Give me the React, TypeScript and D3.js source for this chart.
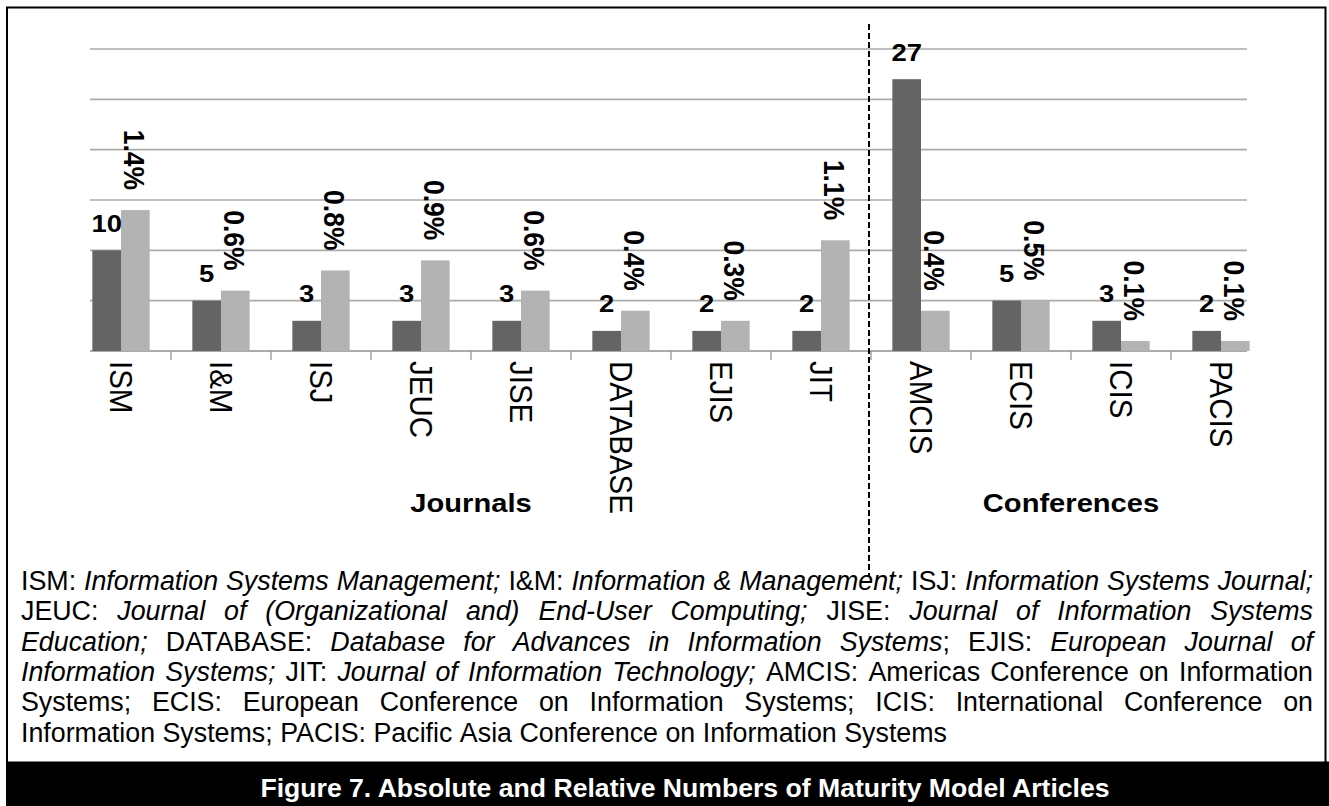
import React, { useEffect, useRef } from "react";
import * as d3 from "d3";

// chart data
const categories = ["ISM", "I&M", "ISJ", "JEUC", "JISE", "DATABASE", "EJIS", "JIT", "AMCIS", "ECIS", "ICIS", "PACIS"];
const articleCounts = [10, 5, 3, 3, 3, 2, 2, 2, 27, 5, 3, 2];
const articleShares = [1.4, 0.6, 0.8, 0.9, 0.6, 0.4, 0.3, 1.1, 0.4, 0.5, 0.1, 0.1];
const countTicks = [0, 5, 10, 15, 20, 25, 30];
const groupNames = ["Journals", "Conferences"];
const groupSpans = [["ISM", "JIT"], ["AMCIS", "PACIS"]];

// footnote, *...* marks italic runs
const footnoteLines = [
  "ISM: *Information Systems Management;* I&M: *Information & Management;* ISJ: *Information Systems Journal;*",
  "JEUC: *Journal of (Organizational and) End-User Computing;* JISE: *Journal of Information Systems*",
  "*Education;* DATABASE: *Database for Advances in Information Systems*; EJIS: *European Journal of*",
  "*Information Systems;* JIT: *Journal of Information Technology;* AMCIS: Americas Conference on Information",
  "Systems; ECIS: European Conference on Information Systems; ICIS: International Conference on",
  "Information Systems; PACIS: Pacific Asia Conference on Information Systems",
];
const caption = "Figure 7. Absolute and Relative Numbers of Maturity Model Articles";

const W = 1329;
const H = 806;
const FONT = "'Liberation Sans', Arial, sans-serif";
const STRETCH = 1.12; // the chart picture is a bit wider than tall

const plot = { left: 90, right: 1247, top: 49, bottom: 351, bandStart: 71, bandEnd: 1271 };
const note = { left: 21, right: 1313, top: 590, step: 30.3, size: 26.8 };

const COLORS = {
  count: "#646464",
  share: "#b3b3b3",
  grid: "#ababab",
  tick: "#8c8c8c",
};

function App() {
  const noteRef = useRef<SVGGElement>(null);

  const x = d3.scaleBand<string>().domain(categories).range([plot.bandStart, plot.bandEnd]);
  const inner = d3
    .scaleBand<string>()
    .domain(["count", "share"])
    .range([0, x.bandwidth()])
    .paddingOuter(0.745);
  const y = d3.scaleLinear().domain([0, 30]).range([plot.bottom, plot.top]);
  const yShare = d3.scaleLinear().domain([0, 3]).range([plot.bottom, plot.top]);

  const divider = (x("AMCIS") as number) - 2;

  useEffect(() => {
    const g = d3.select(noteRef.current);
    g.selectAll("*").remove();

    footnoteLines.forEach((line, i) => {
      let italic = false;
      const words = line.split(" ").map((tok) => {
        const runs: { t: string; it: boolean }[] = [];
        let buf = "";
        for (const ch of tok) {
          if (ch === "*") {
            if (buf) runs.push({ t: buf, it: italic });
            buf = "";
            italic = !italic;
          } else buf += ch;
        }
        if (buf) runs.push({ t: buf, it: italic });
        return runs;
      });

      const yPos = note.top + i * note.step;
      const nodes = words.map((runs) => {
        const t = g
          .append("text")
          .attr("y", yPos)
          .attr("font-family", FONT)
          .attr("font-size", note.size)
          .attr("fill", "#000");
        runs.forEach((r) =>
          t.append("tspan").attr("font-style", r.it ? "italic" : "normal").text(r.t)
        );
        return t;
      });

      const widths = nodes.map((n) => (n.node() as SVGTextElement).getComputedTextLength());
      const total = d3.sum(widths);
      const isLast = i === footnoteLines.length - 1;
      const gap = isLast
        ? note.size * 0.278
        : Math.max(note.size * 0.2, (note.right - note.left - total) / (words.length - 1));

      let cx = note.left;
      nodes.forEach((n, k) => {
        n.attr("x", cx);
        cx += widths[k] + gap;
      });
    });
  }, []);

  return (
    <svg
      width={W}
      height={H}
      style={{ position: "absolute", left: 0, top: 0, display: "block", background: "#fff" }}
    >
      {/* frame and caption bar */}
      <rect x={7} y={7.5} width={1318.5} height={760} fill="#fff" stroke="#000" strokeWidth={2} />
      <rect x={6} y={761.5} width={W - 6} height={H - 761.5} fill="#000" />
      <text
        x={685}
        y={797}
        textAnchor="middle"
        fontFamily={FONT}
        fontWeight="bold"
        fontSize={26.6}
        fill="#fff"
      >
        {caption}
      </text>

      {/* gridlines */}
      {countTicks.map((t) => (
        <line
          key={t}
          x1={plot.left}
          x2={plot.right}
          y1={y(t)}
          y2={y(t)}
          stroke={COLORS.grid}
          strokeWidth={t === 0 ? 2 : 1.6}
        />
      ))}

      {/* category ticks */}
      {categories.slice(1).map((c) => (
        <line
          key={c}
          x1={x(c)}
          x2={x(c)}
          y1={plot.bottom}
          y2={plot.bottom + 9}
          stroke={COLORS.tick}
          strokeWidth={1.2}
        />
      ))}

      {/* bars */}
      {categories.map((c, i) => {
        const x0 = x(c) as number;
        return (
          <g key={c}>
            <rect
              x={x0 + (inner("count") as number)}
              y={y(articleCounts[i])}
              width={inner.bandwidth()}
              height={y(0) - y(articleCounts[i])}
              fill={COLORS.count}
            />
            <rect
              x={x0 + (inner("share") as number)}
              y={yShare(articleShares[i])}
              width={inner.bandwidth()}
              height={yShare(0) - yShare(articleShares[i])}
              fill={COLORS.share}
            />
          </g>
        );
      })}

      {/* count labels */}
      {categories.map((c, i) => {
        const cx = (x(c) as number) + (inner("count") as number) + inner.bandwidth() / 2;
        return (
          <text
            key={c}
            transform={`translate(${cx},${y(articleCounts[i]) - 18.5}) scale(${STRETCH},1)`}
            textAnchor="middle"
            fontFamily={FONT}
            fontWeight="bold"
            fontSize={24.5}
            fill="#000"
          >
            {articleCounts[i]}
          </text>
        );
      })}

      {/* share labels, rotated */}
      {categories.map((c, i) => {
        const cx = (x(c) as number) + (inner("share") as number) + inner.bandwidth() / 2 - 1;
        const fs = 26.5;
        return (
          <text
            key={c}
            transform={`translate(${cx},${yShare(articleShares[i]) - 20}) scale(${STRETCH},1) rotate(90)`}
            y={0.358 * fs}
            textAnchor="end"
            fontFamily={FONT}
            fontWeight="bold"
            fontSize={fs}
            fill="#000"
          >
            {articleShares[i].toFixed(1) + "%"}
          </text>
        );
      })}

      {/* category labels, rotated */}
      {categories.map((c) => {
        const cx = (x(c) as number) + x.bandwidth() / 2;
        const fs = 29.5;
        return (
          <text
            key={c}
            transform={`translate(${cx},361) scale(1.05,1) rotate(90)`}
            y={0.358 * fs}
            textAnchor="start"
            fontFamily={FONT}
            fontSize={fs}
            fill="#000"
          >
            {c}
          </text>
        );
      })}

      {/* journals / conferences divider */}
      <line
        x1={divider}
        x2={divider}
        y1={24}
        y2={576}
        stroke="#000"
        strokeWidth={2}
        strokeDasharray="6,3"
      />

      {/* group titles */}
      {groupNames.map((name, i) => {
        const [a, b] = groupSpans[i];
        const cx = ((x(a) as number) + (x(b) as number) + x.bandwidth()) / 2;
        return (
          <text
            key={name}
            transform={`translate(${cx},512) scale(${STRETCH},1)`}
            textAnchor="middle"
            fontFamily={FONT}
            fontWeight="bold"
            fontSize={26}
            fill="#000"
          >
            {name}
          </text>
        );
      })}

      {/* footnote */}
      <g ref={noteRef} />
    </svg>
  );
}

export default App;
